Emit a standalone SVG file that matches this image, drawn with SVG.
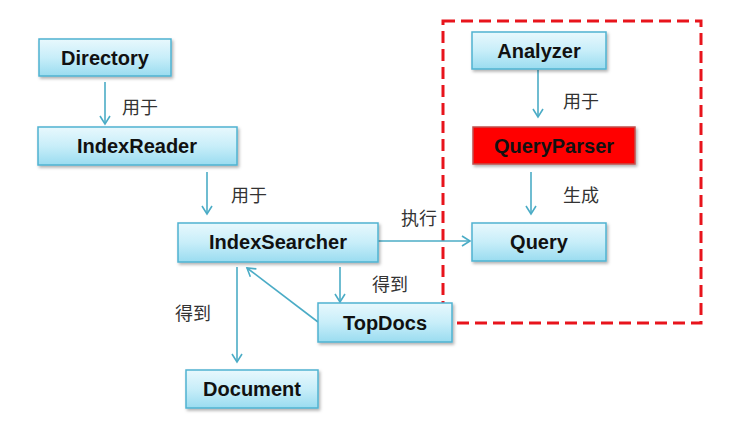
<svg xmlns="http://www.w3.org/2000/svg" width="741" height="431" viewBox="0 0 741 431">
<defs>
<linearGradient id="g" x1="0" y1="0" x2="0" y2="1">
<stop offset="0" stop-color="#e8f8fd"/>
<stop offset="0.5" stop-color="#c8eef9"/>
<stop offset="1" stop-color="#9adcf0"/>
</linearGradient>
<filter id="sh" x="-10%" y="-20%" width="130%" height="160%">
<feDropShadow dx="1.5" dy="2" stdDeviation="1.5" flood-color="#000" flood-opacity="0.3"/>
</filter>
<marker id="ah" markerWidth="14" markerHeight="14" refX="11" refY="7" orient="auto" markerUnits="userSpaceOnUse">
<polyline points="3,2 11,7 3,12" fill="none" stroke="#4bacc6" stroke-width="1.6"/>
</marker>
</defs>
<style>
.box{fill:url(#g);stroke:#4fb3d1;stroke-width:1.5;filter:url(#sh)}
.red{fill:#ff0000;stroke:#c0504d;stroke-width:1.5;filter:url(#sh)}
.t{font-family:"Liberation Sans",Arial,sans-serif;font-weight:bold;font-size:20px;fill:#111;text-anchor:middle}
.c{font-family:"Noto Sans CJK SC","Noto Sans",sans-serif;font-size:18px;fill:#333}
.ln{stroke:#4bacc6;stroke-width:1.6;fill:none;marker-end:url(#ah)}
</style>
<rect width="741" height="431" fill="#fff"/>
<rect x="443" y="21" width="258" height="302" fill="none" stroke="#e8141c" stroke-width="3" stroke-dasharray="12,6"/>
<g id="connectors">
<line class="ln" x1="105" y1="82" x2="105" y2="124"/>
<line class="ln" x1="207" y1="172" x2="207" y2="214"/>
<line class="ln" x1="340" y1="267" x2="340" y2="302"/>
<line class="ln" x1="318" y1="322" x2="247" y2="268"/>
<line class="ln" x1="237" y1="267" x2="237" y2="362"/>
<line class="ln" x1="378" y1="241" x2="470" y2="241"/>
<line class="ln" x1="538" y1="70" x2="538" y2="117"/>
<line class="ln" x1="531" y1="172" x2="531" y2="214"/>
<text class="c" x="122" y="114">用于</text>
<text class="c" x="231" y="202">用于</text>
<text class="c" x="372" y="291">得到</text>
<text class="c" x="175" y="320">得到</text>
<text class="c" x="401" y="225">执行</text>
<text class="c" x="563" y="108">用于</text>
<text class="c" x="563" y="202">生成</text>
</g>
<g id="Directory"><rect class="box" x="39" y="39" width="132" height="37"/><text class="t" x="105" y="65">Directory</text></g>
<g id="IndexReader"><rect class="box" x="38" y="127" width="199" height="38"/><text class="t" x="137" y="153">IndexReader</text></g>
<g id="IndexSearcher"><rect class="box" x="178" y="223" width="200" height="39"/><text class="t" x="278" y="249">IndexSearcher</text></g>
<g id="TopDocs"><rect class="box" x="318" y="303" width="134" height="39"/><text class="t" x="385" y="330">TopDocs</text></g>
<g id="Document"><rect class="box" x="186" y="370" width="132" height="38"/><text class="t" x="252" y="396">Document</text></g>
<g id="Analyzer"><rect class="box" x="472" y="32" width="134" height="37"/><text class="t" x="539" y="58">Analyzer</text></g>
<g id="QueryParser"><rect class="red" x="473" y="127" width="162" height="37"/><text class="t" x="554" y="153">QueryParser</text></g>
<g id="Query"><rect class="box" x="472" y="223" width="134" height="38"/><text class="t" x="539" y="249">Query</text></g>
</svg>
